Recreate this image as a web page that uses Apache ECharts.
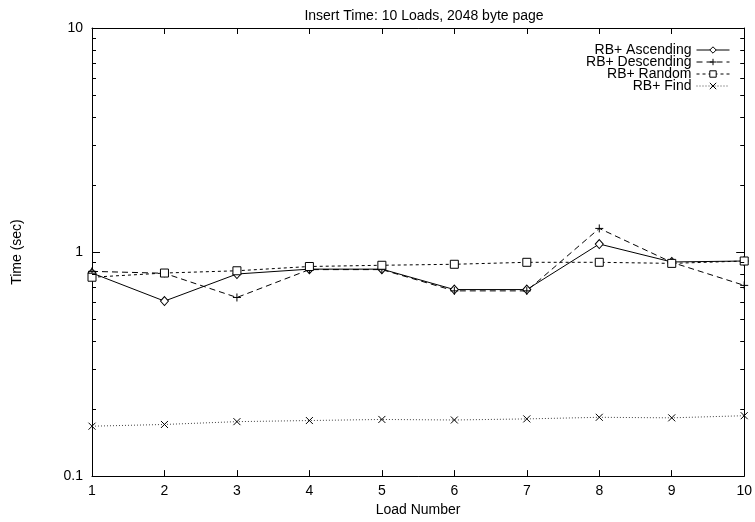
<!DOCTYPE html>
<html>
<head>
<meta charset="utf-8">
<script src="https://cdn.jsdelivr.net/npm/echarts@6/dist/echarts.min.js"></script>
<style>html,body{margin:0;padding:0;background:#fff}#c{width:755px;height:522px}</style>
</head>
<body>
<div id="c"></div>
<script>
const loads = [1, 2, 3, 4, 5, 6, 7, 8, 9, 10];
const ascending = [0.806, 0.604, 0.798, 0.839, 0.839, 0.680, 0.680, 1.086, 0.903, 0.912];
const descending = [0.820, 0.804, 0.627, 0.835, 0.835, 0.671, 0.671, 1.275, 0.900, 0.710];
const randomOrd = [0.772, 0.806, 0.825, 0.862, 0.873, 0.882, 0.900, 0.900, 0.890, 0.912];
const find = [0.167, 0.170, 0.175, 0.177, 0.179, 0.178, 0.180, 0.183, 0.182, 0.186];
const seriesNames = ['RB+ Ascending', 'RB+ Descending', 'RB+ Random', 'RB+ Find'];
const minorTickValues = [0.2, 0.3, 0.4, 0.5, 0.6, 0.7, 0.8, 0.9, 2, 3, 4, 5, 6, 7, 8, 9];

const FONT = "'Liberation Sans', Arial, sans-serif";
const pair = arr => loads.map((x, i) => [x, arr[i]]);
const plusPath = 'path://M0,5L10,5M5,0L5,10';
const crossPath = 'path://M0,0L10,10M10,0L0,10';

function lineSeries(name, data, symbol, size, dash, color) {
  return {
    name: name, type: 'line', data: pair(data), clip: false,
    symbol: symbol, symbolSize: size, showSymbol: true,
    lineStyle: { color: color || '#000', width: 1, type: dash },
    itemStyle: { color: '#fff', borderColor: '#000', borderWidth: 1 },
    emphasis: { disabled: true }, animation: false
  };
}

const chart = echarts.init(document.getElementById('c'), null, { renderer: 'canvas' });
chart.setOption({
  animation: false,
  backgroundColor: '#fff',
  textStyle: { fontFamily: FONT, color: '#000' },
  title: {
    text: 'Insert Time: 10 Loads, 2048 byte page', left: 419, textAlign: 'center', top: 4,
    textStyle: { fontFamily: FONT, fontSize: 14, fontWeight: 'normal', color: '#000' }
  },
  legend: {
    data: seriesNames, orient: 'vertical', right: 20, top: 38, align: 'right',
    itemWidth: 33, itemHeight: 8, itemGap: -2,
    lineStyle: { width: 1 },
    itemStyle: { borderWidth: 1 },
    textStyle: { fontFamily: FONT, fontSize: 14, color: '#000', lineHeight: 12 },
    inactiveColor: '#000'
  },
  grid: { left: 92, right: 9, top: 28, bottom: 35, containLabel: false },
  xAxis: [
    {
      type: 'value', min: 1, max: 10, interval: 1, position: 'bottom',
      name: 'Load Number', nameLocation: 'middle', nameGap: 21,
      nameTextStyle: { fontFamily: FONT, fontSize: 14, color: '#000' },
      axisLine: { show: true, lineStyle: { color: '#000', width: 1 } },
      axisTick: { show: true, inside: true, length: 6, lineStyle: { color: '#000' } },
      axisLabel: { fontFamily: FONT, fontSize: 14, color: '#000', margin: 8 },
      splitLine: { show: false }
    },
    {
      type: 'value', min: 1, max: 10, interval: 1, position: 'top',
      axisLine: { show: true, lineStyle: { color: '#000', width: 1 } },
      axisTick: { show: true, inside: true, length: 6, lineStyle: { color: '#000' } },
      axisLabel: { show: false }, splitLine: { show: false }
    }
  ],
  yAxis: [
    {
      type: 'log', logBase: 10, min: 0.1, max: 10, position: 'left', splitNumber: 2,
      name: 'Time (sec)', nameLocation: 'middle', nameGap: 68,
      nameTextStyle: { fontFamily: FONT, fontSize: 14, color: '#000' },
      axisLine: { show: true, lineStyle: { color: '#000', width: 1 } },
      axisTick: { show: true, inside: true, length: 8, lineStyle: { color: '#000' } },
      axisLabel: {
        fontFamily: FONT, fontSize: 14, color: '#000', margin: 9,
        formatter: v => (v < 1 ? v.toFixed(1) : String(Math.round(v)))
      },
      splitLine: { show: false }
    },
    {
      type: 'log', logBase: 10, min: 0.1, max: 10, position: 'right', splitNumber: 2,
      axisLine: { show: true, lineStyle: { color: '#000', width: 1 } },
      axisTick: { show: true, inside: true, length: 8, lineStyle: { color: '#000' } },
      axisLabel: { show: false }, splitLine: { show: false }
    }
  ],
  series: [
    lineSeries(seriesNames[0], ascending, 'diamond', [8, 9], 'solid'),
    lineSeries(seriesNames[1], descending, plusPath, 8, [6, 4]),
    lineSeries(seriesNames[2], randomOrd, 'rect', 8, [3, 3]),
    lineSeries(seriesNames[3], find, crossPath, 7, [1, 2], '#444'),
    {
      type: 'custom', name: 'minorTicks', silent: true, clip: false, z: 5,
      xAxisIndex: 0, yAxisIndex: 0,
      data: minorTickValues.map(v => [1, v]),
      renderItem: function (params, api) {
        const p = api.coord([1, api.value(1)]);
        const cs = params.coordSys;
        const y = Math.round(p[1]) + 0.5;
        return {
          type: 'group',
          children: [
            { type: 'line', shape: { x1: cs.x, y1: y, x2: cs.x + 4, y2: y }, style: { stroke: '#000', lineWidth: 1 } },
            { type: 'line', shape: { x1: cs.x + cs.width - 4, y1: y, x2: cs.x + cs.width, y2: y }, style: { stroke: '#000', lineWidth: 1 } }
          ]
        };
      }
    }
  ]
});
</script>
</body>
</html>
